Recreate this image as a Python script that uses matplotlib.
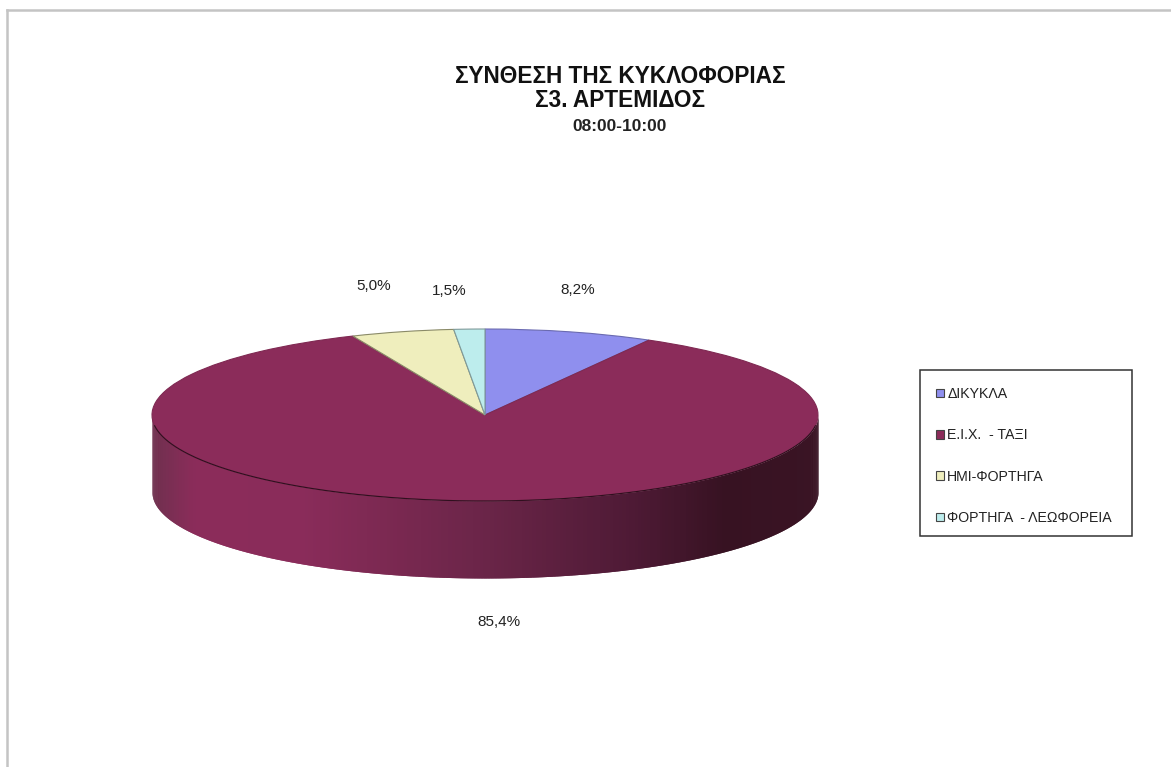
import numpy as np
import matplotlib
matplotlib.use('Agg')
import matplotlib.pyplot as plt
from matplotlib.colors import LinearSegmentedColormap
from matplotlib.lines import Line2D
from matplotlib.patches import Rectangle

plt.rcParams['font.family'] = ['Liberation Sans', 'DejaVu Sans']

categories = ['ΔΙΚΥΚΛΑ', 'Ε.Ι.Χ.  - ΤΑΞΙ', 'ΗΜΙ-ΦΟΡΤΗΓΑ', 'ΦΟΡΤΗΓΑ  - ΛΕΩΦΟΡΕΙΑ']
values = [8.2, 85.4, 5.0, 1.5]
colors = ['#8f8fee', '#8b2c5a', '#efeebd', '#bdeded']
edges = ['#6a6ab0', '#7f2952', '#8a8a68', '#7f9a9a']
title_lines = ['ΣΥΝΘΕΣΗ ΤΗΣ ΚΥΚΛΟΦΟΡΙΑΣ', 'Σ3. ΑΡΤΕΜΙΔΟΣ', '08:00-10:00']
label_pos = [(578, 290), (499, 622), (374, 286), (449, 291)]

W, H = 1171, 767
fig = plt.figure(figsize=(W / 100, H / 100), dpi=100)

# pie is squashed into an ellipse, 333 x 86 px radius, centre at 485,415
depth = 77 / 86
x0, x1 = 485 - 333 * 1.02, 485 + 333 * 1.02
y_top, y_bot = 415 - 86 * 1.05, 415 + 86 + 77 + 5
ax = fig.add_axes([x0 / W, 1 - y_bot / H, (x1 - x0) / W, (y_bot - y_top) / H])

wedges, _ = ax.pie(values, colors=colors, startangle=90, counterclock=False,
                   wedgeprops={'linewidth': 0.8, 'zorder': 3})
for w, e in zip(wedges, edges):
    w.set_edgecolor(e)
ax.set_aspect('auto')
ax.set_xlim(-1.02, 1.02)
ax.set_ylim(-1 - depth - 5 / 86, 1.05)

# side wall, shaded from left to right. strips overlap so no seams show
shade = LinearSegmentedColormap.from_list('wall', [
    (0.00, '#70304f'), (0.06, '#8b2c5a'), (0.22, '#8a2c5a'), (0.50, '#6a2548'),
    (0.72, '#4e1a35'), (0.86, '#371222'), (1.00, '#3a1424')])
t = np.linspace(np.pi, 2 * np.pi, 300)
xs = np.cos(t)
top = np.sin(t)
for i in range(len(t) - 2):
    c = shade((xs[i] + 1) / 2)
    ax.fill_between(xs[i:i + 3], top[i:i + 3], top[i:i + 3] - depth, color=c, lw=0, zorder=1)
ax.plot(xs[12:-12], top[12:-12], color='#2f0f1e', lw=0.8, zorder=4)

for v, (px, py) in zip(values, label_pos):
    fig.text(px / W, 1 - py / H, f'{v:.1f}%'.replace('.', ','), ha='center', va='center',
             fontsize=11, color='#222222')

# title
fig.text(620 / W, 1 - 83 / H, title_lines[0], ha='center', va='baseline', fontsize=16.3, fontweight='bold', color='#111111')
fig.text(620 / W, 1 - 107 / H, title_lines[1], ha='center', va='baseline', fontsize=16.3, fontweight='bold', color='#111111')
fig.text(620 / W, 1 - 131 / H, title_lines[2], ha='center', va='baseline', fontsize=12.5, fontweight='bold', color='#222222')

# legend box is drawn apart, the reference padding is uneven
fig.add_artist(Rectangle((920 / W, 1 - 536 / H), 212 / W, 166 / H, transform=fig.transFigure,
                         facecolor='white', edgecolor='#333333', lw=1.1))
leg = fig.legend(wedges, categories, loc='upper left',
                 bbox_to_anchor=(936 / W, 1 - 387 / H), bbox_transform=fig.transFigure,
                 fontsize=10.2, frameon=False,
                 handlelength=0.55, handleheight=0.55, handletextpad=0.25,
                 labelspacing=1.93, borderpad=0, borderaxespad=0, labelcolor='#222222')
for h in leg.legend_handles:
    h.set_edgecolor('#444444')
    h.set_linewidth(0.8)

# screenshot frame, top and left
fig.add_artist(Line2D([7 / W, 7 / W], [0, 1 - 10 / H], color='#c4c4c4', lw=1.8))
fig.add_artist(Line2D([7 / W, 1], [1 - 10 / H, 1 - 10 / H], color='#c4c4c4', lw=1.8))

fig.savefig('out.png', dpi=100)
